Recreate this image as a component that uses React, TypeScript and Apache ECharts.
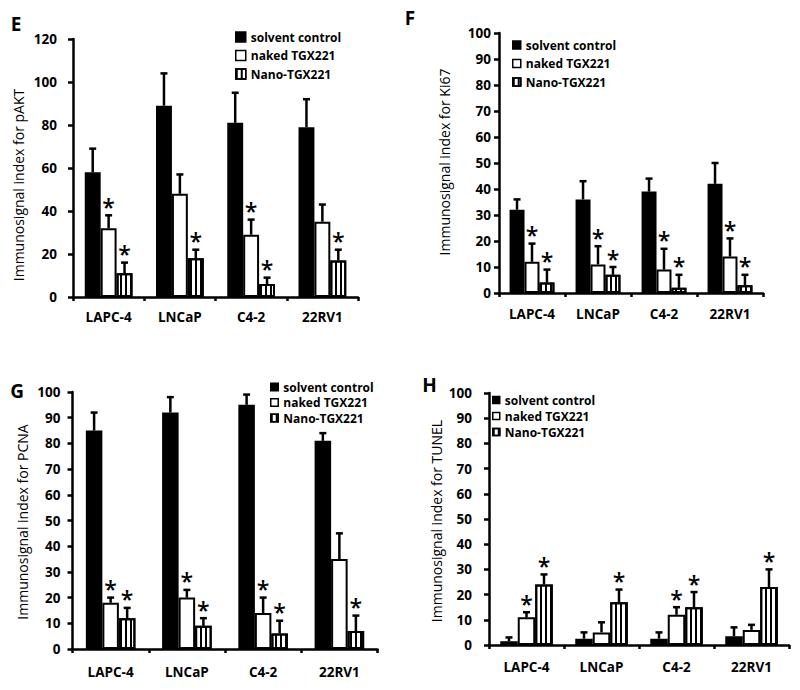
import React, { useEffect, useRef } from 'react';
import * as echarts from 'echarts';

const categories = ['LAPC-4', 'LNCaP', 'C4-2', '22RV1'];
const seriesNames = ['solvent control', 'naked TGX221', 'Nano-TGX221'];

// Panel E – pAKT
const pAKTTicks = [0, 20, 40, 60, 80, 100, 120];
const pAKTSolvent = [58, 89, 81, 79];
const pAKTSolventErr = [11, 15, 14, 13];
const pAKTNaked = [32, 48, 29, 35];
const pAKTNakedErr = [6, 9, 7, 8];
const pAKTNano = [11, 18, 6, 17];
const pAKTNanoErr = [5, 4, 3, 5];
const pAKTSolventSig = [0, 0, 0, 0];
const pAKTNakedSig = [1, 0, 1, 0];
const pAKTNanoSig = [1, 1, 1, 1];

// Panel F – Ki67
const ki67Ticks = [0, 10, 20, 30, 40, 50, 60, 70, 80, 90, 100];
const ki67Solvent = [32, 36, 39, 42];
const ki67SolventErr = [4, 7, 5, 8];
const ki67Naked = [12, 11, 9, 14];
const ki67NakedErr = [7, 7, 8, 7];
const ki67Nano = [4, 7, 2, 3];
const ki67NanoErr = [5, 3, 5, 4];
const ki67SolventSig = [0, 0, 0, 0];
const ki67NakedSig = [1, 1, 1, 1];
const ki67NanoSig = [1, 1, 1, 1];

// Panel G – PCNA
const pcnaTicks = [0, 10, 20, 30, 40, 50, 60, 70, 80, 90, 100];
const pcnaSolvent = [85, 92, 95, 81];
const pcnaSolventErr = [7, 6, 4, 3];
const pcnaNaked = [18, 20, 14, 35];
const pcnaNakedErr = [2, 3, 6, 10];
const pcnaNano = [12, 9, 6, 7];
const pcnaNanoErr = [4, 3, 5, 6];
const pcnaSolventSig = [0, 0, 0, 0];
const pcnaNakedSig = [1, 1, 1, 0];
const pcnaNanoSig = [1, 1, 1, 1];

// Panel H – TUNEL
const tunelTicks = [0, 10, 20, 30, 40, 50, 60, 70, 80, 90, 100];
const tunelSolvent = [1.5, 2.5, 2.5, 3.5];
const tunelSolventErr = [1.5, 2.5, 2.5, 3.5];
const tunelNaked = [11, 5, 12, 6];
const tunelNakedErr = [2, 4, 3, 2];
const tunelNano = [24, 17, 15, 23];
const tunelNanoErr = [4, 5, 6, 7];
const tunelSolventSig = [0, 0, 0, 0];
const tunelNakedSig = [1, 0, 1, 0];
const tunelNanoSig = [1, 1, 1, 1];

const FONT = '"Open Sans"';

const panels = [
  {
    letter: 'E', letterPos: [16, 23.5], title: 'Immunosignal index for pAKT', titlePos: [18.5, 185],
    ticks: pAKTTicks,
    groups: [
      [pAKTSolvent, pAKTSolventErr, pAKTSolventSig],
      [pAKTNaked, pAKTNakedErr, pAKTNakedSig],
      [pAKTNano, pAKTNanoErr, pAKTNanoSig],
    ],
    grid: { left: 73, top: 39, width: 285, height: 258 }, gap: 0.33,
    yMargin: 16, xMargin: 13,
    legend: { left: 235, top: 30, icon: 10, gap: 4.5 },
  },
  {
    letter: 'F', letterPos: [410, 18], title: 'Immunosignal index for Ki67', titlePos: [444, 162],
    ticks: ki67Ticks,
    groups: [
      [ki67Solvent, ki67SolventErr, ki67SolventSig],
      [ki67Naked, ki67NakedErr, ki67NakedSig],
      [ki67Nano, ki67NanoErr, ki67NanoSig],
    ],
    grid: { left: 499, top: 33, width: 264, height: 260 }, gap: 0.32,
    yMargin: 8, xMargin: 14,
    legend: { left: 512, top: 38, icon: 8, gap: 4.5 },
  },
  {
    letter: 'G', letterPos: [17, 391], title: 'Immunosignal index for PCNA', titlePos: [22, 522],
    ticks: pcnaTicks,
    groups: [
      [pcnaSolvent, pcnaSolventErr, pcnaSolventSig],
      [pcnaNaked, pcnaNakedErr, pcnaNakedSig],
      [pcnaNano, pcnaNanoErr, pcnaNanoSig],
    ],
    grid: { left: 72.5, top: 392, width: 305, height: 257 }, gap: 0.35,
    yMargin: 12, xMargin: 15.5,
    legend: { left: 270, top: 380, icon: 7.5, gap: 1.5 },
  },
  {
    letter: 'H', letterPos: [429.5, 384.5], title: 'Immunosignal index for TUNEL', titlePos: [436, 521],
    ticks: tunelTicks,
    groups: [
      [tunelSolvent, tunelSolventErr, tunelSolventSig],
      [tunelNaked, tunelNakedErr, tunelNakedSig],
      [tunelNano, tunelNanoErr, tunelNanoSig],
    ],
    grid: { left: 489, top: 393, width: 300, height: 252 }, gap: 0.30,
    yMargin: 17, xMargin: 14.5,
    legend: { left: 492, top: 393, icon: 7, gap: 2 },
  },
];

const barStyles = [
  { color: '#000', borderColor: '#000', borderWidth: 2 },
  { color: '#fff', borderColor: '#000', borderWidth: 2 },
  {
    color: '#fff', borderColor: '#000', borderWidth: 2,
    decal: { symbol: 'rect', symbolSize: 1, dashArrayX: [1.2, 2.8], dashArrayY: [4, 0], color: '#000', rotation: 0 },
  },
];

function buildOption() {
  const grid: any[] = [];
  const xAxis: any[] = [];
  const yAxis: any[] = [];
  const legend: any[] = [];
  const series: any[] = [];
  const graphic: any[] = [];

  panels.forEach((p, pi) => {
    grid.push({ ...p.grid, containLabel: false });
    xAxis.push({
      type: 'category', gridIndex: pi, data: categories,
      axisLine: { show: true, lineStyle: { color: '#000', width: 2.5 } },
      axisTick: { show: true, length: 4, alignWithLabel: false, lineStyle: { color: '#000', width: 2.5 } },
      axisLabel: { color: '#000', fontFamily: FONT, fontWeight: 'bold', fontSize: 13.5, margin: p.xMargin, interval: 0 },
      splitLine: { show: false },
    });
    const tk = p.ticks;
    yAxis.push({
      type: 'value', gridIndex: pi, min: tk[0], max: tk[tk.length - 1], interval: tk[1] - tk[0],
      axisLine: { show: true, lineStyle: { color: '#000', width: 2.5 } },
      axisTick: { show: true, length: 5, lineStyle: { color: '#000', width: 2.5 } },
      axisLabel: { color: '#000', fontFamily: FONT, fontWeight: 'bold', fontSize: 13.5, margin: p.yMargin },
      splitLine: { show: false },
    });
    legend.push({
      orient: 'vertical', left: p.legend.left, top: p.legend.top, padding: 0,
      itemWidth: p.legend.icon, itemHeight: p.legend.icon, itemGap: p.legend.gap,
      icon: 'rect', selectedMode: false,
      data: seriesNames,
      itemStyle: { borderWidth: 1.5, borderColor: '#000' },
      textStyle: { color: '#000', fontFamily: FONT, fontWeight: 'bold', fontSize: 12, lineHeight: 14 },
    });
    p.groups.forEach((g, gi) => {
      const [vals, errs, sig] = g as number[][];
      series.push({
        type: 'bar', name: seriesNames[gi], xAxisIndex: pi, yAxisIndex: pi,
        data: vals, barGap: '0%', barCategoryGap: `${p.gap * 100}%`,
        itemStyle: barStyles[gi], z: 2, silent: true,
      });
      const gap = p.gap;
      series.push({
        type: 'custom', xAxisIndex: pi, yAxisIndex: pi, clip: false, silent: true, z: 5,
        data: vals.map((v, i) => [i, v, errs[i], sig[i]]),
        renderItem: (params: any, api: any) => {
          const ci = api.value(0);
          const v = api.value(1);
          const e = api.value(2);
          const s = api.value(3);
          const band = api.size([1, 0])[0];
          const bw = (band * (1 - gap)) / 3;
          const base = api.coord([ci, v]);
          const top = api.coord([ci, v + e]);
          const x = base[0] + (gi - 1) * bw;
          const children: any[] = [
            { type: 'line', shape: { x1: x, y1: base[1], x2: x, y2: top[1] }, style: { stroke: '#000', lineWidth: 2.5 } },
            { type: 'line', shape: { x1: x - 3.5, y1: top[1], x2: x + 3.5, y2: top[1] }, style: { stroke: '#000', lineWidth: 2.5 } },
          ];
          if (s) {
            children.push({
              type: 'text', x: x, y: top[1] - 8.5,
              style: { text: '*', font: `600 23px ${FONT}`, fill: '#000', align: 'center', verticalAlign: 'middle' },
            });
          }
          return { type: 'group', children };
        },
      });
    });
    graphic.push({
      type: 'text', x: p.letterPos[0], y: p.letterPos[1],
      style: { text: p.letter, font: `bold 19px ${FONT}`, fill: '#000', align: 'center', verticalAlign: 'middle' },
    });
    graphic.push({
      type: 'text', x: p.titlePos[0], y: p.titlePos[1], rotation: Math.PI / 2,
      style: { text: p.title, font: `14px ${FONT}`, fill: '#000', align: 'center', verticalAlign: 'middle' },
    });
  });

  return {
    animation: false,
    backgroundColor: '#fff',
    grid, xAxis, yAxis, legend, series, graphic,
  };
}

export default function App() {
  const ref = useRef<HTMLDivElement>(null);
  useEffect(() => {
    if (!ref.current) return;
    const chart = echarts.init(ref.current, undefined, { renderer: 'svg' });
    chart.setOption(buildOption() as any);
    return () => chart.dispose();
  }, []);
  return (
    <div
      ref={ref}
      style={{ position: 'fixed', left: 0, top: 0, width: 800, height: 690, background: '#fff' }}
    />
  );
}
